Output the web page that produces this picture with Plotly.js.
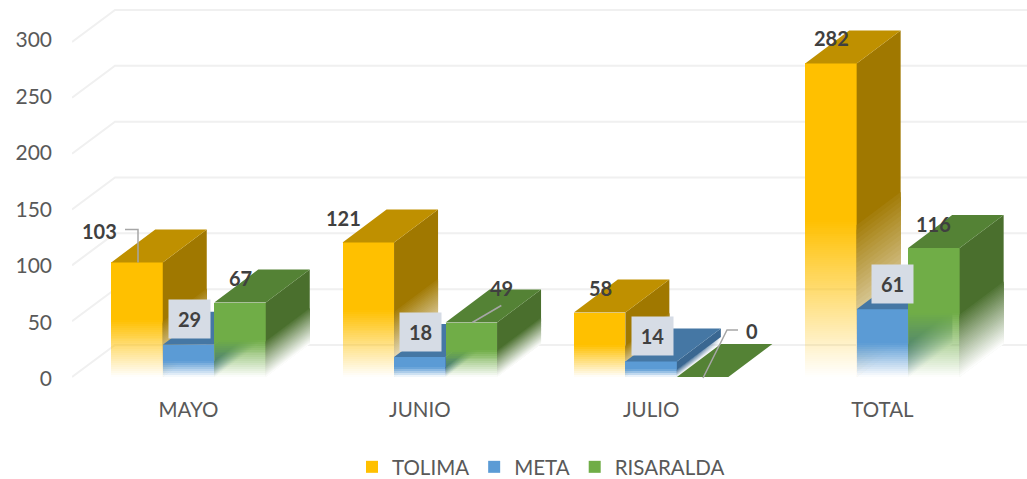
<!DOCTYPE html>
<html>
<head>
<meta charset="utf-8">
<script src="https://cdn.plot.ly/plotly-3.0.1.min.js"></script>
<style>html,body{margin:0;padding:0;background:#fff}#c{width:1027px;height:479px}</style>
</head>
<body>
<div id="c"></div>
<script>
// ---- data ----
const categories = ['MAYO', 'JUNIO', 'JULIO', 'TOTAL'];
const seriesNames = ['TOLIMA', 'META', 'RISARALDA'];
const tolima = [103, 121, 58, 282];
const meta = [29, 18, 14, 61];
const risaralda = [67, 49, 0, 116];
const axisTicks = [0, 50, 100, 150, 200, 250, 300];

// ---- style ----
const frontColors = ['255,192,0', '91,155,213', '112,173,71'];
const sideColors = ['160,120,0', '58,103,145', '74,111,45'];
const topColors = ['191,144,0', '69,119,164', '84,130,53'];
// label offsets in pixels: [dx, up, boxed]
const labelOffsets = [
  [[-38, 31.5], [0.5, 26, true], [0, 24.5]],
  [[-25, 24], [0.2, 25, true], [30, 34.5]],
  [[1, 24.5], [1, 25, true], [49.5, 46]],
  [[1, 25.5], [10.5, 25, true], [0, 24]]
];

// ---- scale ----
const W = 1027, H = 479, plotL = 72, plotB = 379, marginB = 38;
const catPx = 231.3, cat0Px = 188.5, zeroPx = 377, labelZeroPx = 379;
const barPxPerUnit = 1.112, labelPxPerUnit = 1.13, wallPxPerUnit = 1.1167;
const barW = 51.5 / catPx, depthX = 44 / catPx, depthY = 33 / barPxPerUnit;
const xRange = [(plotL - cat0Px) / catPx, (W - cat0Px) / catPx];
const barRange = [(zeroPx - plotB) / barPxPerUnit, zeroPx / barPxPerUnit];
const labelRange = [(labelZeroPx - plotB) / labelPxPerUnit, labelZeroPx / labelPxPerUnit];
const N = 32;
const series = [tolima, meta, risaralda];
const pxX = p => p / catPx, pxY = p => p / barPxPerUnit;
const mix = (c, a) => 'rgb(' + c.split(',').map(u => Math.round(+u * a + 255 * (1 - a))).join(',') + ')';

const traces = [];
// back wall grid
{
  const gx = [], gy = [];
  const toLabel = up => (labelZeroPx - zeroPx + up) / labelPxPerUnit;
  axisTicks.forEach(t => {
    const up = t * wallPxPerUnit;
    gx.push(xRange[0], xRange[0] + 43 / catPx, xRange[1], null);
    gy.push(toLabel(up), toLabel(up + 32), toLabel(up + 32), null);
  });
  traces.push({x: gx, y: gy, type: 'scatter', mode: 'lines', hoverinfo: 'skip', showlegend: false,
    line: {color: '#f0f0f0', width: 2}, xaxis: 'x', yaxis: 'y'});
}

series.forEach((vals, s) => {
  const ya = 'y' + (s + 2);
  const xc = categories.map((_, g) => g + (s - 1) * barW);
  // value bar
  traces.push({type: 'bar', x: xc, y: vals, width: barW, name: seriesNames[s], showlegend: false,
    marker: {color: 'rgba(0,0,0,0)', line: {width: 0}}, xaxis: 'x', yaxis: ya});
  // solid upper half of the front face (legend swatch)
  traces.push({type: 'bar', x: xc, y: vals.map(v => v / 2), base: vals.map(v => v / 2), width: barW,
    name: seriesNames[s], hoverinfo: 'skip',
    marker: {color: 'rgb(' + frontColors[s] + ')', line: {width: 0}}, xaxis: 'x', yaxis: ya});
  // fading lower half of the front face, one band per two pixels
  const fx = [], fb = [], fy = [], fc = [];
  vals.forEach((v, g) => {
    if (!v) return;
    const n = Math.max(2, Math.round(v / 2 * barPxPerUnit / 2));
    for (let i = 0; i < n; i++) {
      fx.push(xc[g]); fb.push(v / 2 * i / n); fy.push(v / 2 / n);
      fc.push('rgba(' + frontColors[s] + ',' + ((i + 0.5) / n).toFixed(3) + ')');
    }
  });
  traces.push({type: 'bar', x: fx, base: fb, y: fy, width: barW, showlegend: false, hoverinfo: 'skip',
    marker: {color: fc, line: {width: 0}}, xaxis: 'x', yaxis: ya});
  const poly = (col, xs, ys) => traces.push({x: xs, y: ys, type: 'scatter', mode: 'lines', fill: 'toself',
    fillcolor: col, line: {width: 0, color: 'rgba(0,0,0,0)'}, hoverinfo: 'skip', showlegend: false, xaxis: 'x', yaxis: ya});
  // side face: overlapping polygons painted from the top edge down, each lighter than the last
  for (let i = N; i >= 0; i--) {
    const bx = [], by = [];
    vals.forEach((v, g) => {
      if (!v) return;
      const r = xc[g] + barW / 2, step = v / 2 / (N + 1);
      const b = i === N ? v : step * (i + 1), a = Math.max(0, step * (i - 2));
      bx.push(r, r + depthX, r + depthX, r, r, null);
      by.push(b, b + depthY, a + depthY, a, b, null);
    });
    poly(mix(sideColors[s], i === N ? 1 : (i + 0.5) / (N + 1)), bx, by);
  }
  const tx = [], ty = [];
  vals.forEach((v, g) => {
    const r = xc[g] + barW / 2, l = xc[g] - barW / 2;
    tx.push(l, r, r + depthX, l + depthX, l, null);
    ty.push(v, v, v + depthY, v + depthY, v, null);
  });
  poly('rgb(' + topColors[s] + ')', tx, ty);
});

// leader lines
const lead = (g, s, pts) => {
  const v = series[s][g], xc = g + (s - 1) * barW;
  return pts.map(p => [xc + pxX(p[0]), v + pxY(p[1])]);
};
const leaders = [
  lead(0, 0, [[1, 0], [1, 33], [-12, 33]]),
  lead(1, 2, [[1, 0], [30, 17]]),
  lead(2, 2, [[0.4, -1], [24.4, 47], [35.4, 47]])
];
traces.push({type: 'scatter', mode: 'lines', hoverinfo: 'skip', showlegend: false,
  x: leaders.flatMap(l => l.map(p => p[0]).concat([null])),
  y: leaders.flatMap(l => l.map(p => p[1]).concat([null])),
  line: {color: '#a6a6a6', width: 1.5}, xaxis: 'x', yaxis: 'y4'});

// data labels
const annotations = [];
series.forEach((vals, s) => vals.forEach((v, g) => {
  const o = labelOffsets[g][s];
  const a = {xref: 'x', yref: 'y' + (s + 2), x: g + (s - 1) * barW, y: v, text: String(v), showarrow: false,
    xshift: o[0], yshift: o[1], xanchor: 'center', yanchor: 'middle',
    font: {family: 'Lato, sans-serif', size: 20, color: '#404040', weight: 700}};
  if (o[2]) { a.bgcolor = '#d6dce5'; a.width = 41; a.height = 38; a.borderpad = 0; a.align = 'center'; a.valign = 'middle'; }
  annotations.push(a);
}));

const plotH = H - marginB;
const hiddenY = r => ({range: r, overlaying: 'y', visible: false, fixedrange: true, showgrid: false, zeroline: false});
const layout = {
  width: W, height: H, margin: {l: plotL, r: 0, t: 0, b: marginB, pad: 0},
  paper_bgcolor: '#fff', plot_bgcolor: 'rgba(0,0,0,0)', barmode: 'overlay', bargap: 0, bargroupgap: 0,
  showlegend: true, hovermode: false,
  font: {family: 'Lato, sans-serif', color: '#595959'},
  xaxis: {range: xRange, tickmode: 'array', tickvals: categories.map((_, i) => i), ticktext: categories,
    showgrid: false, zeroline: false, showline: false, ticks: '', ticklabelstandoff: 16,
    tickfont: {size: 20.5, color: '#595959', family: 'Lato, sans-serif'}, fixedrange: true},
  yaxis: {domain: [(plotH - plotB) / plotH, 1], range: labelRange, tickmode: 'array', tickvals: axisTicks, showgrid: false, zeroline: false, showline: false,
    ticks: '', ticklabelstandoff: 19, tickfont: {size: 21, color: '#595959', family: 'Lato, sans-serif'}, fixedrange: true},
  yaxis2: hiddenY(barRange), yaxis3: hiddenY(barRange), yaxis4: hiddenY(barRange),
  legend: {orientation: 'h', xref: 'container', yref: 'container', x: 541 / W, xanchor: 'center', y: (H - 467) / H, yanchor: 'middle',
    font: {size: 20.5, color: '#595959', family: 'Lato, sans-serif'}, bgcolor: 'rgba(0,0,0,0)',
    traceorder: 'normal'},
  annotations: annotations
};
Plotly.newPlot('c', traces, layout, {displayModeBar: false});
</script>
</body>
</html>
